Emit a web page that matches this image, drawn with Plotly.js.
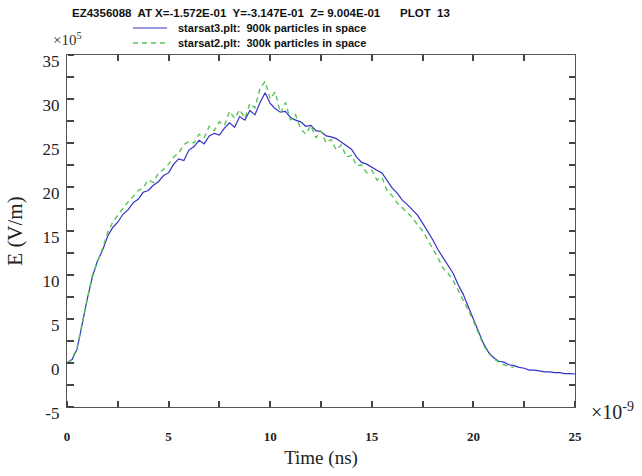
<!DOCTYPE html>
<html>
<head>
<meta charset="utf-8">
<script src="https://cdn.plot.ly/plotly-3.0.1.min.js"></script>
<style>html,body{margin:0;padding:0;background:#fff;}</style>
</head>
<body>
<div id="chart" style="width:642px;height:476px;"></div>
<script>
// Time (ns)
const timeBlue = [0,0.25,0.5,0.75,1,1.25,1.5,1.75,2,2.25,2.5,2.75,3,3.25,3.5,3.75,4,4.25,4.5,4.75,5,5.25,5.5,5.75,6,6.25,6.5,6.75,7,7.25,7.5,7.75,8,8.25,8.5,8.75,9,9.25,9.5,9.75,10,10.25,10.5,10.75,11,11.25,11.5,11.75,12,12.25,12.5,12.75,13,13.25,13.5,13.75,14,14.25,14.5,14.75,15,15.25,15.5,15.75,16,16.25,16.5,16.75,17,17.25,17.5,17.75,18,18.25,18.5,18.75,19,19.25,19.5,19.75,20,20.25,20.5,20.75,21,21.25,21.5,21.75,22,22.25,22.5,22.75,23,23.25,23.5,23.75,24,24.25,24.5,24.75,25];
// E (x1e5 V/m), starsat3.plt 900k particles
const eBlue = [0,0.4,1.6,4.5,7.3,9.8,11.6,12.8,14.4,15.4,16.0,16.9,17.4,18.2,18.6,19.4,19.6,20.2,20.6,21.3,21.6,22.6,23.2,23.0,24.2,24.6,25.3,24.9,25.8,26.1,25.9,26.7,27.3,26.8,28.0,27.6,28.7,28.2,29.6,30.7,29.5,28.9,28.5,28.6,27.9,27.6,27.4,26.9,27.0,26.4,26.3,25.8,25.7,25.5,25.1,24.7,24.3,23.4,22.8,22.6,22.2,21.9,21.6,20.7,19.9,19.3,18.5,18.0,17.4,16.8,15.9,15.0,14.0,12.9,12.0,11.0,10.2,8.9,7.8,6.4,5.0,3.4,2.2,1.2,0.6,0.2,0.1,-0.2,-0.3,-0.5,-0.6,-0.8,-0.8,-0.9,-1.0,-1.0,-1.1,-1.1,-1.2,-1.2,-1.25];
const timeGreen = [0,0.25,0.5,0.75,1,1.25,1.5,1.75,2,2.25,2.5,2.75,3,3.25,3.5,3.75,4,4.25,4.5,4.75,5,5.25,5.5,5.75,6,6.25,6.5,6.75,7,7.25,7.5,7.75,8,8.25,8.5,8.75,9,9.25,9.5,9.75,10,10.25,10.5,10.75,11,11.25,11.5,11.75,12,12.25,12.5,12.75,13,13.25,13.5,13.75,14,14.25,14.5,14.75,15,15.25,15.5,15.75,16,16.25,16.5,16.75,17,17.25,17.5,17.75,18,18.25,18.5,18.75,19,19.25,19.5,19.75,20,20.25,20.5,20.75,21,21.25,21.5,21.75,22];
// E (x1e5 V/m), starsat2.plt 300k particles
const eGreen = [0,0.5,1.8,4.6,7.5,10.0,11.5,13.0,14.8,16.0,16.8,17.6,18.3,18.9,19.6,19.9,20.8,20.5,21.6,22.0,22.6,23.4,23.9,24.8,25.2,25.0,26.0,25.6,26.9,26.4,27.4,27.0,28.6,27.8,28.8,27.8,29.5,29.0,31.2,32.0,30.0,30.8,28.4,29.6,27.6,28.2,26.6,26.0,27.0,25.6,26.4,25.0,25.4,24.2,24.8,23.4,23.6,22.4,22.5,21.6,21.9,20.8,21.1,19.6,19.0,18.2,17.6,17.0,16.5,15.7,15.0,14.0,13.0,12.0,10.8,10.2,9.4,8.3,7.2,6.0,4.8,3.3,2.0,1.1,0.5,0.1,-0.2,-0.4,-0.5];

const xTickVals = [0,2.5,5,7.5,10,12.5,15,17.5,20,22.5,25];
const xTickText = ['0','','5','','10','','15','','20','','25'];
const yTickVals = [-5,-2.5,0,2.5,5,7.5,10,12.5,15,17.5,20,22.5,25,27.5,30,32.5,35];
const yTickText = ['-5','','0','','5','','10','','15','','20','','25','','30','','35'];

const seriesNames = ['starsat3.plt:&nbsp; 900k particles in space','starsat2.plt:&nbsp; 300k particles in space'];
const headerText = 'EZ4356088&nbsp; AT X=-1.572E-01&nbsp; Y=-3.147E-01&nbsp; Z= 9.004E-01';
const plotText = 'PLOT&nbsp; 13';

const blueColor = 'rgb(50,50,200)';
const greenColor = 'rgb(90,195,90)';
const narrow = '"Liberation Sans", Arial, sans-serif';
const serif = '"Liberation Serif", "Times New Roman", serif';

const xRange = [0, 25];
const yRange = [-5, 35];

const traces = [
  {x: timeBlue, y: eBlue, type: 'scatter', mode: 'lines', name: seriesNames[0],
   line: {color: blueColor, width: 1.2}},
  {x: timeGreen, y: eGreen, type: 'scatter', mode: 'lines', name: seriesNames[1],
   xaxis: 'x2', yaxis: 'y2',
   line: {color: greenColor, width: 1.4, dash: '5px,4px'}}
];

// tick-only helper axes (outside ticks of a flipped-side axis point into the frame)
function tickAxis(overlay, side, position, vals, range) {
  return {
    overlaying: overlay, anchor: 'free', position: position, side: side,
    range: range, tickmode: 'array', tickvals: vals,
    ticks: 'outside', ticklen: 6, tickwidth: 1.6, tickcolor: '#444',
    showticklabels: false, showline: false, showgrid: false, zeroline: false
  };
}

const layout = {
  width: 642, height: 476,
  margin: {l: 67, r: 67, t: 55, b: 69},
  paper_bgcolor: '#fff', plot_bgcolor: '#fff',
  showlegend: false,
  xaxis: {
    range: xRange, tickmode: 'array', tickvals: xTickVals, ticktext: xTickText,
    ticks: 'inside', ticklen: 6, tickwidth: 2, tickcolor: '#444',
    showline: true, mirror: 'allticks', linecolor: '#555', linewidth: 1.2,
    showgrid: false, zeroline: false,
    tickfont: {family: serif, size: 13, color: '#222', weight: 'bold'},
    ticklabelstandoff: 17,
    title: {text: 'Time (ns)', font: {family: serif, size: 19, color: '#222'}, standoff: 8}
  },
  yaxis: {
    range: yRange, tickmode: 'array', tickvals: yTickVals, ticktext: yTickText,
    ticks: 'inside', ticklen: 6, tickwidth: 2, tickcolor: '#444',
    showline: true, mirror: 'allticks', linecolor: '#555', linewidth: 1.2,
    showgrid: false, zeroline: false,
    tickfont: {family: serif, size: 17, color: '#222'},
    ticklabelshift: 6, ticklabelstandoff: 3,
    title: {text: 'E (V/m)', font: {family: serif, size: 21, color: '#222'}, standoff: 14}
  },
  xaxis2: tickAxis('x', 'top', 0, xTickVals, xRange),
  yaxis2: tickAxis('y', 'right', 0, yTickVals, yRange),
  annotations: [
    {xref: 'paper', yref: 'paper', x: 0.006, y: 1.119, xanchor: 'left', yanchor: 'middle',
     text: headerText, showarrow: false, font: {family: narrow, size: 11.5, color: '#111', weight: 'bold'}},
    {xref: 'paper', yref: 'paper', x: 0.652, y: 1.119, xanchor: 'left', yanchor: 'middle',
     text: plotText, showarrow: false, font: {family: narrow, size: 11.5, color: '#111', weight: 'bold'}},
    {xref: 'paper', yref: 'paper', x: 0.2146, y: 1.0767, xanchor: 'left', yanchor: 'middle',
     text: seriesNames[0], showarrow: false, font: {family: narrow, size: 11, color: '#111', weight: 'bold'}},
    {xref: 'paper', yref: 'paper', x: 0.2146, y: 1.0341, xanchor: 'left', yanchor: 'middle',
     text: seriesNames[1], showarrow: false, font: {family: narrow, size: 11, color: '#111', weight: 'bold'}},
    {xref: 'paper', yref: 'paper', x: -0.031, y: 1.045, xanchor: 'left', yanchor: 'middle',
     text: '×10<sup>5</sup>', showarrow: false, font: {family: serif, size: 15, color: '#333'}},
    {xref: 'paper', yref: 'paper', x: 1.028, y: -0.01, xanchor: 'left', yanchor: 'middle',
     text: '×10<sup>-9</sup>', showarrow: false, font: {family: serif, size: 20, color: '#222'}}
  ],
  shapes: [
    {type: 'line', xref: 'paper', yref: 'paper', x0: 0.1299, x1: 0.1969, y0: 1.0767, y1: 1.0767,
     line: {color: blueColor, width: 1.2}},
    {type: 'line', xref: 'paper', yref: 'paper', x0: 0.1299, x1: 0.1969, y0: 1.0341, y1: 1.0341,
     line: {color: greenColor, width: 1.4, dash: '5px,4px'}}
  ]
};

Plotly.newPlot('chart', traces, layout, {displayModeBar: false, staticPlot: true});
</script>
</body>
</html>
